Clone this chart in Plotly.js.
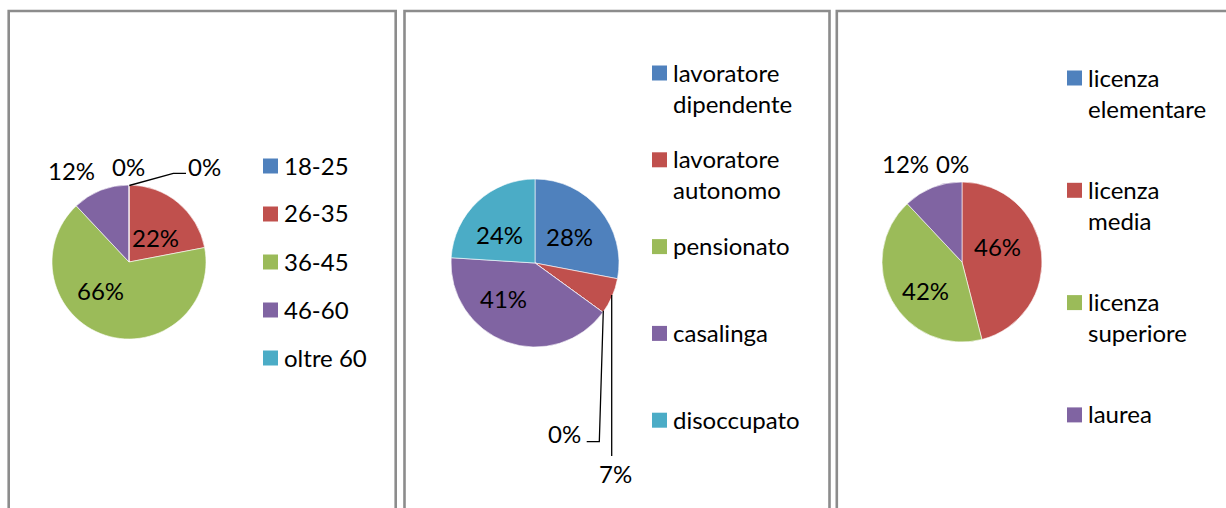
<!DOCTYPE html>
<html><head><meta charset="utf-8">
<script src="https://cdn.plot.ly/plotly-3.0.1.min.js"></script>
<style>html,body{margin:0;padding:0;background:#fff;}#chart{width:1226px;height:508px;}</style>
</head><body><div id="chart"></div>
<script>
// ---- data ----
const ageLabels = ['18-25', '26-35', '36-45', '46-60', 'oltre 60'];
const ageValues = [0, 22, 66, 12, 0];
const jobLabels = ['lavoratore dipendente', 'lavoratore autonomo', 'pensionato', 'casalinga', 'disoccupato'];
const jobValues = [28, 7, 0, 41, 24];
const eduLabels = ['licenza elementare', 'licenza media', 'licenza superiore', 'laurea'];
const eduValues = [0, 46, 42, 12];
const sliceColors = ['#4F81BD', '#C0504D', '#9BBB59', '#8064A2', '#4BACC6'];

// ---- layout helpers ----
const W = 1226, H = 508;
const FONT = 'Lato, "Open Sans", sans-serif';
const FS = 24;
const LH = FS * 1.3;
const px = x => x / W, py = y => 1 - y / H;
const pct = (vals, i) => Math.round(vals[i] / vals.reduce((a, b) => a + b, 0) * 100) + '%';

const shapes = [], annotations = [];

function pie(labels, values, cx, cy, r) {
  return {
    type: 'pie', labels: labels, values: values, sort: false, direction: 'clockwise', rotation: 0,
    domain: {x: [px(cx - r), px(cx + r)], y: [py(cy + r), py(cy - r)]},
    marker: {colors: sliceColors.slice(0, labels.length), line: {color: '#ffffff', width: 0.6}},
    textinfo: 'none',
    showlegend: false, hoverinfo: 'label+percent'
  };
}

function legend(labels, x, y0, step, wrap) {
  labels.forEach((lab, i) => {
    const yc = y0 + i * step;
    shapes.push({type: 'rect', xref: 'paper', yref: 'paper', x0: px(x), x1: px(x + 15),
      y0: py(yc + 7.5), y1: py(yc - 7.5), fillcolor: sliceColors[i], line: {width: 0}});
    const text = wrap ? lab.replace(' ', '<br>') : lab;
    const n = text.split('<br>').length;
    annotations.push({xref: 'paper', yref: 'paper', x: px(x + 20), y: py(yc + (n - 1) * LH / 2 - 1),
      xanchor: 'left', yanchor: 'middle', align: 'left', showarrow: false, borderpad: 0,
      text: text, font: {family: FONT, size: FS, color: '#000'}});
  });
}

// percentage data label for slice i of a pie, placed at (x, y) px
function sliceLabel(vals, i, x, y) {
  annotations.push({xref: 'paper', yref: 'paper', x: px(x), y: py(y), xanchor: 'center', yanchor: 'middle',
    showarrow: false, borderpad: 0, text: pct(vals, i), font: {family: FONT, size: FS, color: '#000'}});
}

function leader(pts) {
  const d = pts.map((p, k) => (k ? 'L' : 'M') + px(p[0]).toFixed(5) + ',' + py(p[1]).toFixed(5)).join(' ');
  shapes.push({type: 'path', xref: 'paper', yref: 'paper', path: d, line: {color: '#000', width: 1.3}});
}

// panel frames
[[8.7, 395.7], [404.5, 829.5], [836.8, 1240]].forEach(([a, b]) => {
  shapes.push({type: 'rect', xref: 'paper', yref: 'paper', x0: px(a), x1: px(b), y0: py(530), y1: py(11),
    line: {color: '#8c8c8c', width: 2.6}, fillcolor: 'rgba(0,0,0,0)', layer: 'below'});
});

// legends
legend(ageLabels, 263, 166, 48, false);
legend(jobLabels, 652, 73, 86.8, true);
legend(eduLabels, 1067, 78, 112.3, true);

// data labels, panel 1
sliceLabel(ageValues, 1, 155, 237);
sliceLabel(ageValues, 2, 100.5, 290);
sliceLabel(ageValues, 3, 71, 170);
sliceLabel(ageValues, 4, 128, 166);
sliceLabel(ageValues, 0, 204, 166);
leader([[129.3, 185.5], [173.3, 173.3], [186, 173.3]]);
// panel 2
sliceLabel(jobValues, 0, 569.5, 236);
sliceLabel(jobValues, 4, 499.5, 234);
sliceLabel(jobValues, 3, 503.3, 298);
sliceLabel(jobValues, 2, 564, 433);
leader([[603.3, 310.7], [599.3, 441.7], [586.7, 441.7]]);
sliceLabel(jobValues, 1, 615, 473);
leader([[611.7, 295], [611.7, 456]]);
// panel 3
sliceLabel(eduValues, 1, 997, 246.5);
sliceLabel(eduValues, 2, 925, 290);
sliceLabel(eduValues, 0, 952, 163);
sliceLabel(eduValues, 3, 905, 163);

const data = [
  pie(ageLabels, ageValues, 129, 262, 77),
  pie(jobLabels, jobValues, 535, 263, 84),
  pie(eduLabels, eduValues, 962, 262, 80)
];

const layout = {
  width: W, height: H, margin: {l: 0, r: 0, t: 0, b: 0},
  paper_bgcolor: '#fff', plot_bgcolor: '#fff',
  font: {family: FONT, size: FS, color: '#000'},
  showlegend: false, shapes: shapes, annotations: annotations
};

Plotly.newPlot('chart', data, layout, {displayModeBar: false, staticPlot: true});
</script>
</body></html>
